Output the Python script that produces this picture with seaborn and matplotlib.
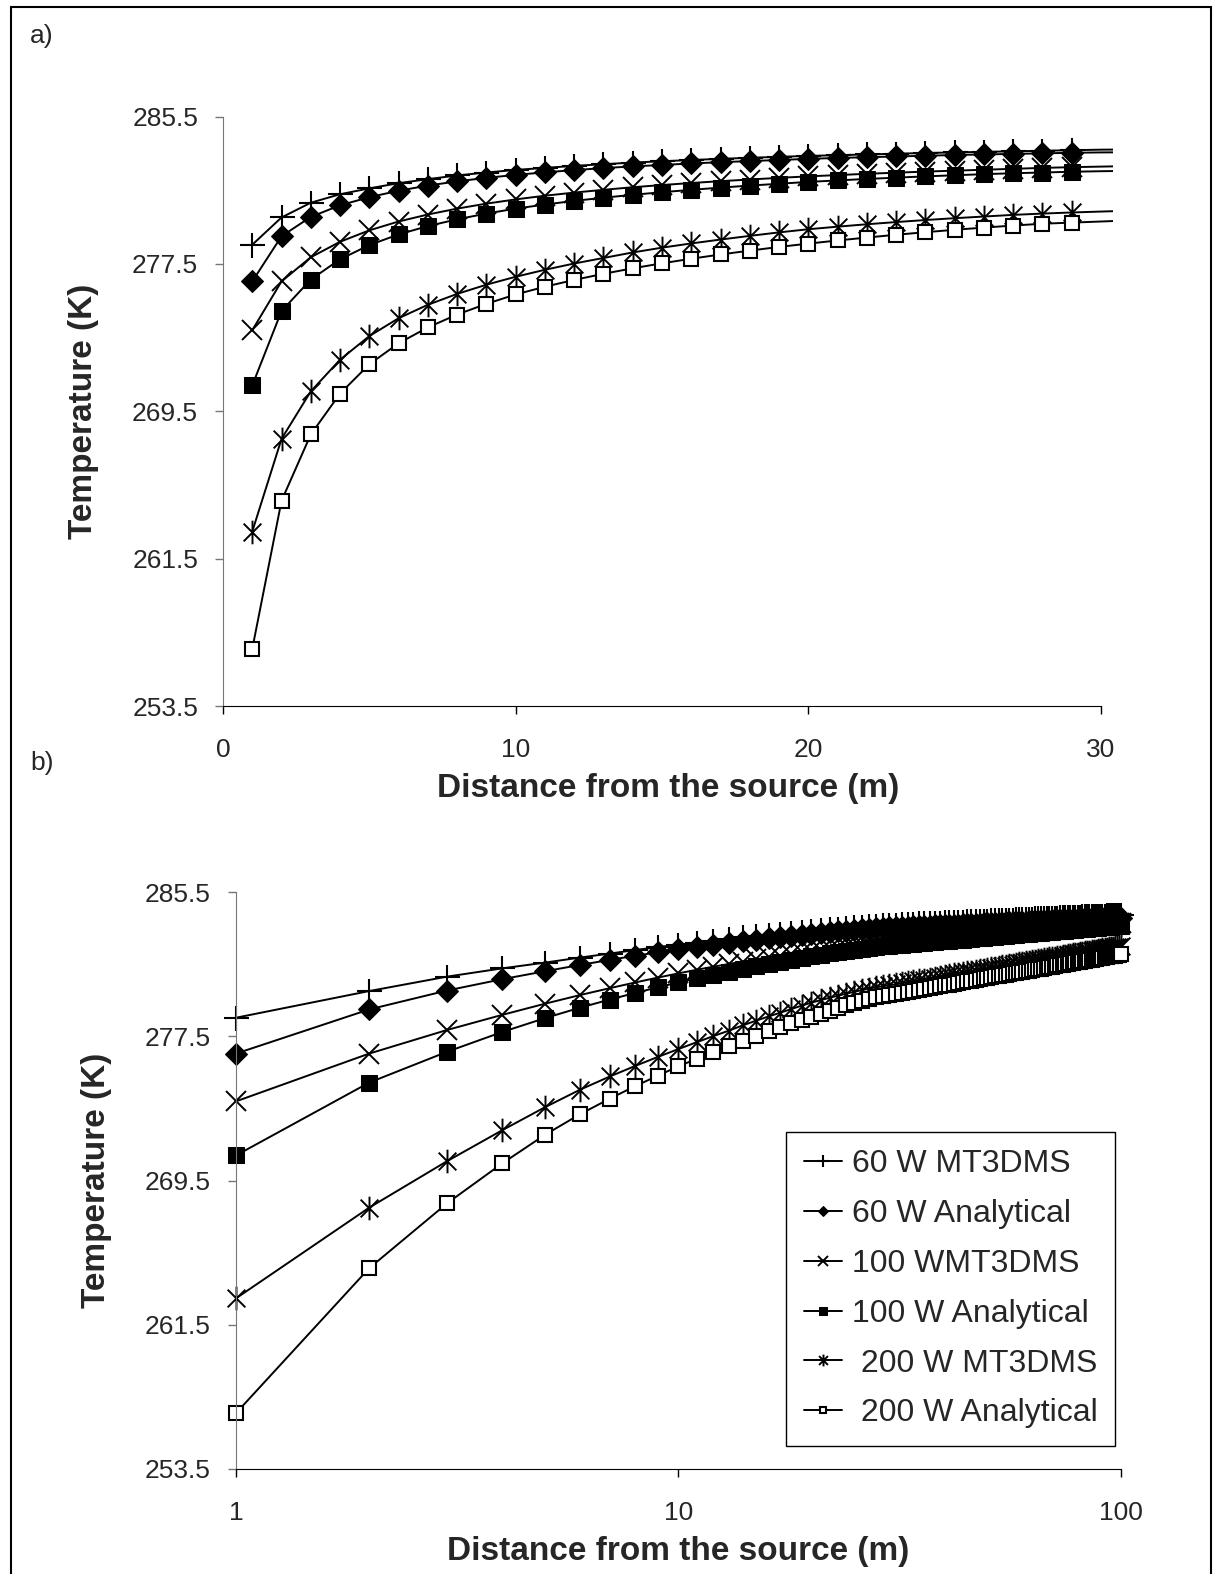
import numpy as np
import pandas as pd
import matplotlib
matplotlib.use("Agg")
import matplotlib.pyplot as plt
from matplotlib.path import Path
from matplotlib.patches import Rectangle
import seaborn as sns

# --- Data (distance in m, temperature in K) ---
distance = np.arange(1, 101)

t60_mt3dms = [
    278.54, 280.02, 280.82, 281.28, 281.60, 281.88, 282.10, 282.30, 282.46, 282.60,
    282.71, 282.82, 282.91, 283.00, 283.07, 283.14, 283.20, 283.26, 283.31, 283.36,
    283.40, 283.44, 283.48, 283.52, 283.55, 283.58, 283.61, 283.64, 283.67, 283.70,
    283.71, 283.73, 283.74, 283.76, 283.77, 283.78, 283.80, 283.81, 283.82, 283.83,
    283.84, 283.85, 283.86, 283.87, 283.89, 283.90, 283.91, 283.91, 283.92, 283.93,
    283.94, 283.95, 283.96, 283.97, 283.98, 283.98, 283.99, 284.00, 284.01, 284.02,
    284.02, 284.03, 284.04, 284.05, 284.05, 284.06, 284.07, 284.07, 284.08, 284.09,
    284.09, 284.10, 284.11, 284.11, 284.12, 284.12, 284.13, 284.14, 284.14, 284.15,
    284.15, 284.16, 284.16, 284.17, 284.18, 284.18, 284.19, 284.19, 284.20, 284.20,
    284.21, 284.21, 284.22, 284.22, 284.23, 284.23, 284.24, 284.24, 284.25, 284.25,
]
t60_analytical = [
    276.55, 279.00, 280.05, 280.68, 281.12, 281.47, 281.75, 281.98, 282.17, 282.33,
    282.47, 282.59, 282.70, 282.79, 282.87, 282.95, 283.02, 283.08, 283.14, 283.20,
    283.25, 283.29, 283.33, 283.37, 283.41, 283.44, 283.47, 283.50, 283.53, 283.55,
    283.56, 283.58, 283.59, 283.61, 283.62, 283.63, 283.65, 283.66, 283.67, 283.68,
    283.69, 283.70, 283.71, 283.72, 283.74, 283.75, 283.76, 283.76, 283.77, 283.78,
    283.79, 283.80, 283.81, 283.82, 283.83, 283.83, 283.84, 283.85, 283.86, 283.87,
    283.87, 283.88, 283.89, 283.90, 283.90, 283.91, 283.92, 283.92, 283.93, 283.94,
    283.94, 283.95, 283.96, 283.96, 283.97, 283.97, 283.98, 283.99, 283.99, 284.00,
    284.00, 284.01, 284.01, 284.02, 284.03, 284.03, 284.04, 284.04, 284.05, 284.05,
    284.06, 284.06, 284.07, 284.07, 284.08, 284.08, 284.09, 284.09, 284.10, 284.10,
]
t100_mt3dms = [
    273.90, 276.55, 277.86, 278.70, 279.32, 279.80, 280.18, 280.50, 280.77, 281.00,
    281.20, 281.37, 281.52, 281.66, 281.78, 281.89, 281.99, 282.08, 282.17, 282.25,
    282.32, 282.39, 282.45, 282.51, 282.56, 282.61, 282.66, 282.71, 282.75, 282.78,
    282.81, 282.84, 282.86, 282.89, 282.91, 282.93, 282.96, 282.98, 283.00, 283.02,
    283.04, 283.06, 283.08, 283.10, 283.12, 283.14, 283.16, 283.18, 283.20, 283.21,
    283.23, 283.25, 283.26, 283.28, 283.29, 283.31, 283.32, 283.34, 283.35, 283.37,
    283.38, 283.40, 283.41, 283.42, 283.44, 283.45, 283.46, 283.47, 283.49, 283.50,
    283.51, 283.52, 283.53, 283.55, 283.56, 283.57, 283.58, 283.59, 283.60, 283.61,
    283.62, 283.63, 283.64, 283.65, 283.66, 283.67, 283.68, 283.69, 283.70, 283.71,
    283.72, 283.73, 283.74, 283.75, 283.76, 283.77, 283.77, 283.78, 283.79, 283.80,
]
t100_analytical = [
    270.90, 274.94, 276.65, 277.75, 278.52, 279.10, 279.55, 279.92, 280.23, 280.50,
    280.72, 280.92, 281.09, 281.25, 281.39, 281.52, 281.64, 281.75, 281.85, 281.95,
    282.03, 282.11, 282.18, 282.25, 282.31, 282.37, 282.42, 282.46, 282.50, 282.53,
    282.55, 282.58, 282.61, 282.64, 282.66, 282.69, 282.72, 282.74, 282.77, 282.79,
    282.81, 282.84, 282.86, 282.88, 282.90, 282.92, 282.94, 282.96, 282.98, 283.00,
    283.02, 283.04, 283.05, 283.07, 283.09, 283.11, 283.12, 283.14, 283.16, 283.17,
    283.19, 283.20, 283.22, 283.23, 283.25, 283.26, 283.27, 283.29, 283.30, 283.32,
    283.33, 283.34, 283.36, 283.37, 283.38, 283.39, 283.40, 283.42, 283.43, 283.44,
    283.45, 283.46, 283.47, 283.49, 283.50, 283.51, 283.52, 283.53, 283.54, 283.55,
    283.56, 283.57, 283.58, 283.59, 283.60, 283.61, 283.62, 283.63, 283.64, 283.65,
]
t200_mt3dms = [
    262.97, 268.00, 270.58, 272.30, 273.58, 274.55, 275.28, 275.87, 276.37, 276.80,
    277.18, 277.52, 277.82, 278.12, 278.38, 278.61, 278.82, 279.02, 279.21, 279.38,
    279.52, 279.65, 279.77, 279.88, 279.98, 280.07, 280.16, 280.23, 280.29, 280.34,
    280.39, 280.45, 280.50, 280.56, 280.61, 280.66, 280.71, 280.76, 280.80, 280.85,
    280.89, 280.94, 280.98, 281.02, 281.06, 281.10, 281.14, 281.18, 281.21, 281.25,
    281.29, 281.32, 281.36, 281.39, 281.42, 281.45, 281.49, 281.52, 281.55, 281.58,
    281.61, 281.64, 281.67, 281.69, 281.72, 281.75, 281.78, 281.81, 281.83, 281.86,
    281.88, 281.91, 281.93, 281.96, 281.98, 282.01, 282.03, 282.05, 282.07, 282.10,
    282.12, 282.14, 282.16, 282.19, 282.21, 282.23, 282.25, 282.27, 282.29, 282.31,
    282.33, 282.35, 282.37, 282.39, 282.41, 282.43, 282.45, 282.46, 282.48, 282.50,
]
t200_analytical = [
    256.60, 264.64, 268.24, 270.46, 272.05, 273.19, 274.05, 274.75, 275.33, 275.84,
    276.26, 276.63, 276.96, 277.26, 277.53, 277.78, 278.01, 278.22, 278.42, 278.60,
    278.77, 278.93, 279.08, 279.22, 279.35, 279.47, 279.58, 279.68, 279.74, 279.80,
    279.86, 279.92, 279.98, 280.03, 280.09, 280.14, 280.19, 280.24, 280.29, 280.34,
    280.38, 280.43, 280.47, 280.52, 280.56, 280.60, 280.64, 280.68, 280.72, 280.75,
    280.79, 280.83, 280.86, 280.90, 280.93, 280.97, 281.00, 281.03, 281.06, 281.10,
    281.13, 281.16, 281.19, 281.22, 281.24, 281.27, 281.30, 281.33, 281.36, 281.38,
    281.41, 281.44, 281.46, 281.49, 281.51, 281.54, 281.56, 281.59, 281.61, 281.63,
    281.66, 281.68, 281.70, 281.72, 281.75, 281.77, 281.79, 281.81, 281.83, 281.85,
    281.87, 281.89, 281.92, 281.94, 281.95, 281.97, 281.99, 282.01, 282.03, 282.05,
]

series_labels = ["60 W MT3DMS", "60 W Analytical", "100 WMT3DMS",
                 "100 W Analytical", " 200 W MT3DMS", " 200 W Analytical"]
series_values = [t60_mt3dms, t60_analytical, t100_mt3dms,
                 t100_analytical, t200_mt3dms, t200_analytical]

y_ticks = [253.5, 261.5, 269.5, 277.5, 285.5]

df = pd.concat(
    [pd.DataFrame({"distance": distance, "temperature": v, "series": s})
     for s, v in zip(series_labels, series_values)],
    ignore_index=True,
)

# --- Style ---
sns.set_style("white")
plt.rcParams["font.family"] = ["Liberation Sans", "DejaVu Sans"]

# Excel style asterisk: vertical bar + X
asterisk = Path(
    [(0, -1), (0, 1), (-0.75, -0.75), (0.75, 0.75), (-0.75, 0.75), (0.75, -0.75)],
    [Path.MOVETO, Path.LINETO, Path.MOVETO, Path.LINETO, Path.MOVETO, Path.LINETO],
)
marker_styles = [
    dict(marker="+", markersize=18, markeredgewidth=1.5),
    dict(marker="D", markersize=11, markerfacecolor="black"),
    dict(marker="x", markersize=14, markeredgewidth=1.4),
    dict(marker="s", markersize=11, markerfacecolor="black"),
    dict(marker=asterisk, markersize=17, markeredgewidth=1.4),
    dict(marker="s", markersize=10, markerfacecolor="white", markeredgewidth=1.5),
]

W, H = 1215, 1574
fig = plt.figure(figsize=(W / 100, H / 100), dpi=100)

ax_a = fig.add_axes([223 / W, 1 - 706 / H, 889.7 / W, 589.5 / H])
ax_b = fig.add_axes([236 / W, 1 - 1469 / H, 884.6 / W, 576.7 / H])

for name, style in zip(series_labels, marker_styles):
    sub = df[df["series"] == name]
    sns.lineplot(data=sub, x="distance", y="temperature", ax=ax_a, color="black",
                 linewidth=1.4, markevery=slice(0, 29), estimator=None,
                 markeredgecolor="black", **style)
    sns.lineplot(data=sub, x="distance", y="temperature", ax=ax_b, color="black",
                 linewidth=1.4, label=name, estimator=None, clip_on=False,
                 markeredgecolor="black", **style)

for ax in (ax_a, ax_b):
    ax.set_ylim(253.5, 285.5)
    ax.set_yticks(y_ticks)
    ax.set_yticklabels([f"{t:.1f}" for t in y_ticks])
    ax.spines["top"].set_visible(False)
    ax.spines["right"].set_visible(False)
    ax.spines["left"].set_color("#777777")
    ax.spines["bottom"].set_color("black")
    ax.tick_params(axis="y", direction="out", length=6, width=1, color="#777777",
                   pad=12, labelsize=19, left=True)
    ax.tick_params(axis="x", direction="out", length=6, width=1, color="black",
                   pad=17, labelsize=19, bottom=True)
    ax.set_ylabel("Temperature (K)", fontsize=24, fontweight="bold", labelpad=24)
    ax.set_xlabel("Distance from the source (m)", fontsize=24, fontweight="bold",
                  labelpad=8)
    ax.grid(False)

ax_a.set_xlim(0, 30.4)
ax_a.set_xticks([0, 10, 20, 30])
ax_a.spines["bottom"].set_bounds(0, 30)
if ax_a.get_legend() is not None:
    ax_a.get_legend().remove()

ax_b.set_xscale("log")
ax_b.set_xlim(1, 100)
ax_b.set_xticks([1, 10, 100])
ax_b.set_xticklabels(["1", "10", "100"])
ax_b.minorticks_off()
ax_b.tick_params(axis="x", which="minor", bottom=False)

leg = ax_b.legend(loc="lower right", bbox_to_anchor=(0.994, 0.04), borderaxespad=0,
                  fontsize=23, frameon=True, fancybox=False, edgecolor="black",
                  framealpha=1, handlelength=1.2, handletextpad=0.3,
                  labelspacing=0.62, markerscale=0.5, borderpad=0.55)
leg.get_frame().set_linewidth(1.0)
leg.set_zorder(5)

# Panel letters and outer frame
fig.text(30 / W, 1 - 36 / H, "a)", fontsize=19, va="center", ha="left")
fig.text(30 / W, 1 - 763 / H, "b)", fontsize=19, va="center", ha="left")
fig.patches.append(Rectangle((11 / W, -0.01), 1200 / W, 1.01 - 7 / H,
                             transform=fig.transFigure, fill=False,
                             edgecolor="black", linewidth=1.5))

fig.savefig("out.png", dpi=100)
